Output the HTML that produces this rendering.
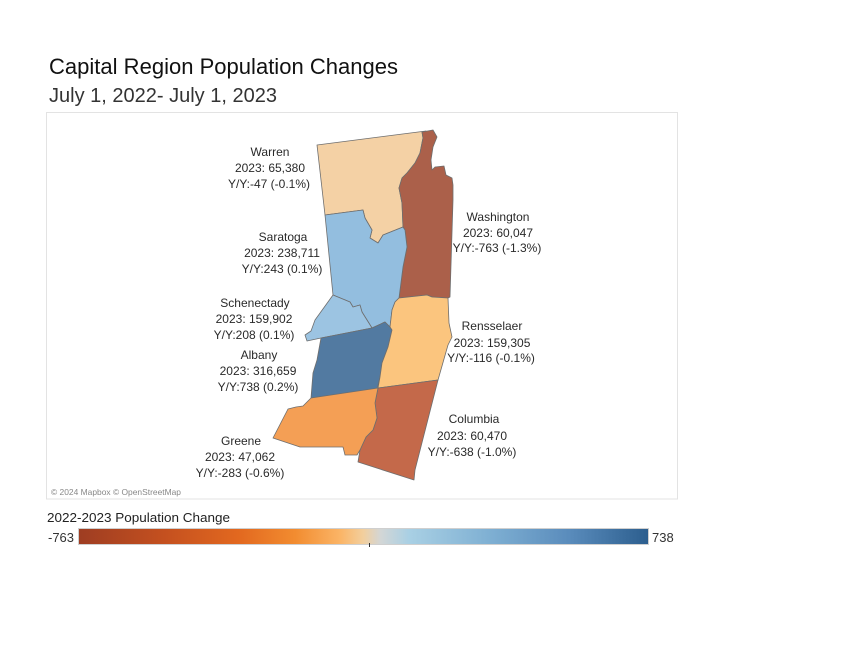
<!DOCTYPE html>
<html>
<head>
<meta charset="utf-8">
<style>
  html,body{margin:0;padding:0;background:#fff;}
  svg{display:block;}
  text{font-family:"Liberation Sans",sans-serif;}
</style>
</head>
<body>
<svg width="854" height="660" viewBox="0 0 854 660" xmlns="http://www.w3.org/2000/svg">
  <defs>
    <linearGradient id="lg" x1="0" x2="1" y1="0" y2="0">
      <stop offset="0" stop-color="#9e3d22"/>
      <stop offset="0.15" stop-color="#c4501f"/>
      <stop offset="0.28" stop-color="#e2681f"/>
      <stop offset="0.38" stop-color="#f28c30"/>
      <stop offset="0.46" stop-color="#fbb567"/>
      <stop offset="0.5" stop-color="#f2cf9e"/>
      <stop offset="0.53" stop-color="#d3d6d6"/>
      <stop offset="0.58" stop-color="#a9d0e4"/>
      <stop offset="0.72" stop-color="#7fb0d3"/>
      <stop offset="0.86" stop-color="#5a8cbc"/>
      <stop offset="1" stop-color="#2c5e8e"/>
    </linearGradient>
  </defs>
  <rect width="854" height="660" fill="#fff"/>

  <!-- Titles -->
  <text x="49" y="74" font-size="22" fill="#111" textLength="349" lengthAdjust="spacingAndGlyphs">Capital Region Population Changes</text>
  <text x="49" y="102" font-size="20" fill="#333" textLength="228" lengthAdjust="spacingAndGlyphs">July 1, 2022- July 1, 2023</text>

  <!-- Map frame -->
  <rect x="46.5" y="112.5" width="631" height="386.5" fill="#fff" stroke="#e3e3e3" stroke-width="1"/>

  <g stroke="#6e6e6e" stroke-width="0.8" stroke-linejoin="round">
    <!-- Warren -->
    <polygon fill="#f4d1a5" points="317,145 426,131 422,132 423,138 420,153 415,163 407,173 402,178 399,188 402,203 403,227 383,235 378,243 370,238 372,230 365,218 363,210 325,215"/>
    <!-- Washington -->
    <polygon fill="#ab604a" points="422,132 433,130 437,137 433,147 431,160 432,170 435,167 444,166 446,175 452,178 453,185 453,200 450,297 448,298 432,297 427,295 399,298 403,267 407,247 405,230 403,227 402,203 399,188 402,178 407,173 415,163 420,153 423,138"/>
    <!-- Saratoga -->
    <polygon fill="#93bedf" points="325,215 363,210 365,218 372,230 370,238 378,243 383,235 403,227 405,230 407,247 403,267 399,298 395,302 392,310 390,327 385,322 372,328 362,312 360,305 353,307 350,302 333,295"/>
    <!-- Schenectady -->
    <polygon fill="#9cc4e2" points="333,295 350,302 353,307 360,305 362,312 372,328 321,338 307,341 305,335 311,331 315,320"/>
    <!-- Albany -->
    <polygon fill="#527aa1" points="321,338 372,328 385,322 390,327 392,330 388,347 382,363 380,377 377,389 311,398 313,373 317,360"/>
    <!-- Rensselaer -->
    <polygon fill="#fbc57e" points="399,298 427,295 432,297 448,298 449,323 452,337 448,345 438,380 378,388 380,377 382,363 388,347 392,330 390,327 392,310 395,302"/>
    <!-- Columbia -->
    <polygon fill="#c4694a" points="378,388 438,380 415,470 414,480 358,462 360,450 366,437 373,430 377,418 375,403"/>
    <!-- Greene -->
    <polygon fill="#f49f55" points="311,398 378,388 375,403 377,418 373,430 366,437 360,450 357,455 345,455 343,447 300,447 273,438 288,409 296,407 303,406"/>
  </g>

  <!-- Labels -->
  <g font-size="12" fill="#2a2a2a" text-anchor="middle">
    <text x="270" y="156">Warren</text>
    <text x="270" y="172">2023: 65,380</text>
    <text x="269" y="188">Y/Y:-47 (-0.1%)</text>

    <text x="283" y="241">Saratoga</text>
    <text x="282" y="257">2023: 238,711</text>
    <text x="282" y="273">Y/Y:243 (0.1%)</text>

    <text x="498" y="221">Washington</text>
    <text x="498" y="237">2023: 60,047</text>
    <text x="497" y="252">Y/Y:-763 (-1.3%)</text>

    <text x="255" y="307">Schenectady</text>
    <text x="254" y="323">2023: 159,902</text>
    <text x="254" y="339">Y/Y:208 (0.1%)</text>

    <text x="259" y="359">Albany</text>
    <text x="258" y="375">2023: 316,659</text>
    <text x="258" y="391">Y/Y:738 (0.2%)</text>

    <text x="492" y="330">Rensselaer</text>
    <text x="492" y="347">2023: 159,305</text>
    <text x="491" y="362">Y/Y:-116 (-0.1%)</text>

    <text x="474" y="423">Columbia</text>
    <text x="472" y="440">2023: 60,470</text>
    <text x="472" y="456">Y/Y:-638 (-1.0%)</text>

    <text x="241" y="445">Greene</text>
    <text x="240" y="461">2023: 47,062</text>
    <text x="240" y="477">Y/Y:-283 (-0.6%)</text>
  </g>

  <text x="51" y="495" font-size="8.5" fill="#888" textLength="130" lengthAdjust="spacingAndGlyphs">© 2024 Mapbox © OpenStreetMap</text>

  <!-- Legend -->
  <text x="47" y="522" font-size="13" fill="#222" textLength="183" lengthAdjust="spacingAndGlyphs">2022-2023 Population Change</text>
  <rect x="78.5" y="528.5" width="570" height="16" fill="url(#lg)" stroke="#cfcfcf" stroke-width="1"/>
  <line x1="369.5" y1="543" x2="369.5" y2="547" stroke="#333" stroke-width="1"/>
  <text x="48" y="542" font-size="13" fill="#333">-763</text>
  <text x="652" y="542" font-size="13" fill="#333">738</text>
</svg>
</body>
</html>
